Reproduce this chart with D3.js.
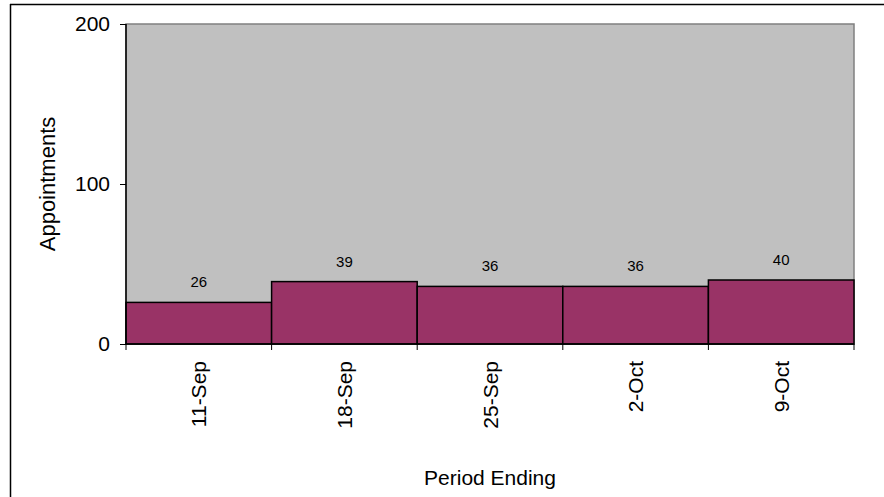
<!DOCTYPE html>
<html>
<head>
<meta charset="utf-8">
<script src="https://cdn.jsdelivr.net/npm/d3@7"></script>
<style>
  html, body { margin: 0; padding: 0; background: #fff; }
  svg { display: block; font-family: "Liberation Sans", Arial, sans-serif; }
</style>
</head>
<body>
<svg id="chart" width="884" height="497"></svg>
<script>
// Weekly appointment counts
const periods = ["11-Sep", "18-Sep", "25-Sep", "2-Oct", "9-Oct"];
const appointments = [26, 39, 36, 36, 40];
const yTicks = [0, 100, 200];

const svg = d3.select("#chart");
const W = 884, H = 497;
const plot = { left: 126, top: 24, right: 854, bottom: 344 };
const labelSize = 21;

// outer frame (top and left edges)
svg.append("line").attr("x1", 10).attr("x2", W).attr("y1", 4.5).attr("y2", 4.5)
  .attr("stroke", "#000").attr("stroke-width", 1.5);
svg.append("line").attr("x1", 10.5).attr("x2", 10.5).attr("y1", 4).attr("y2", H)
  .attr("stroke", "#000").attr("stroke-width", 1.5);

const x = d3.scaleBand().domain(periods).range([plot.left, plot.right]).paddingInner(0).paddingOuter(0);
const y = d3.scaleLinear().domain([0, 200]).range([plot.bottom, plot.top]);

// plot background
svg.append("rect")
  .attr("x", plot.left).attr("y", plot.top)
  .attr("width", plot.right - plot.left).attr("height", plot.bottom - plot.top)
  .attr("fill", "#c0c0c0").attr("stroke", "#808080").attr("stroke-width", 1.5);

// bars
svg.selectAll("rect.bar").data(appointments).enter().append("rect")
  .attr("class", "bar")
  .attr("x", (d, i) => x(periods[i]))
  .attr("y", d => y(d))
  .attr("width", x.bandwidth())
  .attr("height", d => y(0) - y(d))
  .attr("fill", "#993366").attr("stroke", "#000").attr("stroke-width", 1.5);

// value labels
svg.selectAll("text.val").data(appointments).enter().append("text")
  .attr("class", "val")
  .attr("x", (d, i) => x(periods[i]) + x.bandwidth() / 2)
  .attr("y", d => y(d) - 15)
  .attr("text-anchor", "middle")
  .attr("font-size", 15).attr("fill", "#000")
  .text(d => d);

// y axis
const yAxis = d3.axisLeft(y).tickValues(yTicks).tickSize(6).tickPadding(10);
const gy = svg.append("g").attr("transform", `translate(${plot.left},0)`).call(yAxis);
gy.select(".domain").attr("stroke", "#000").attr("stroke-width", 1.5).attr("d", `M0,${plot.top}V${plot.bottom}`);
gy.selectAll(".tick line").attr("stroke", "#000");
gy.selectAll(".tick text").attr("font-size", labelSize).attr("font-family", "Liberation Sans, Arial, sans-serif").attr("fill", "#000");

// x axis: ticks at category boundaries
const gx = svg.append("g").attr("transform", `translate(0,${plot.bottom})`);
gx.append("line").attr("x1", plot.left).attr("x2", plot.right).attr("y1", 0).attr("y2", 0)
  .attr("stroke", "#000").attr("stroke-width", 1.5);
const bounds = periods.map(p => x(p)).concat([x(periods[periods.length - 1]) + x.bandwidth()]);
gx.selectAll("line.tk").data(bounds).enter().append("line")
  .attr("class", "tk")
  .attr("x1", d => d).attr("x2", d => d).attr("y1", 0).attr("y2", 6)
  .attr("stroke", "#000").attr("stroke-width", 1);
gx.selectAll("text.lbl").data(periods).enter().append("text")
  .attr("class", "lbl")
  .attr("transform", d => `translate(${x(d) + x.bandwidth() / 2 + 0.36 * labelSize},${17}) rotate(-90)`)
  .attr("text-anchor", "end")
  .attr("font-size", labelSize).attr("fill", "#000")
  .text(d => d);

// axis titles
svg.append("text")
  .attr("x", (plot.left + plot.right) / 2).attr("y", 485)
  .attr("text-anchor", "middle").attr("font-size", labelSize).attr("fill", "#000")
  .text("Period Ending");
svg.append("text")
  .attr("transform", `translate(55,${(plot.top + plot.bottom) / 2}) rotate(-90)`)
  .attr("text-anchor", "middle").attr("font-size", 22).attr("fill", "#000")
  .text("Appointments");
</script>
</body>
</html>
